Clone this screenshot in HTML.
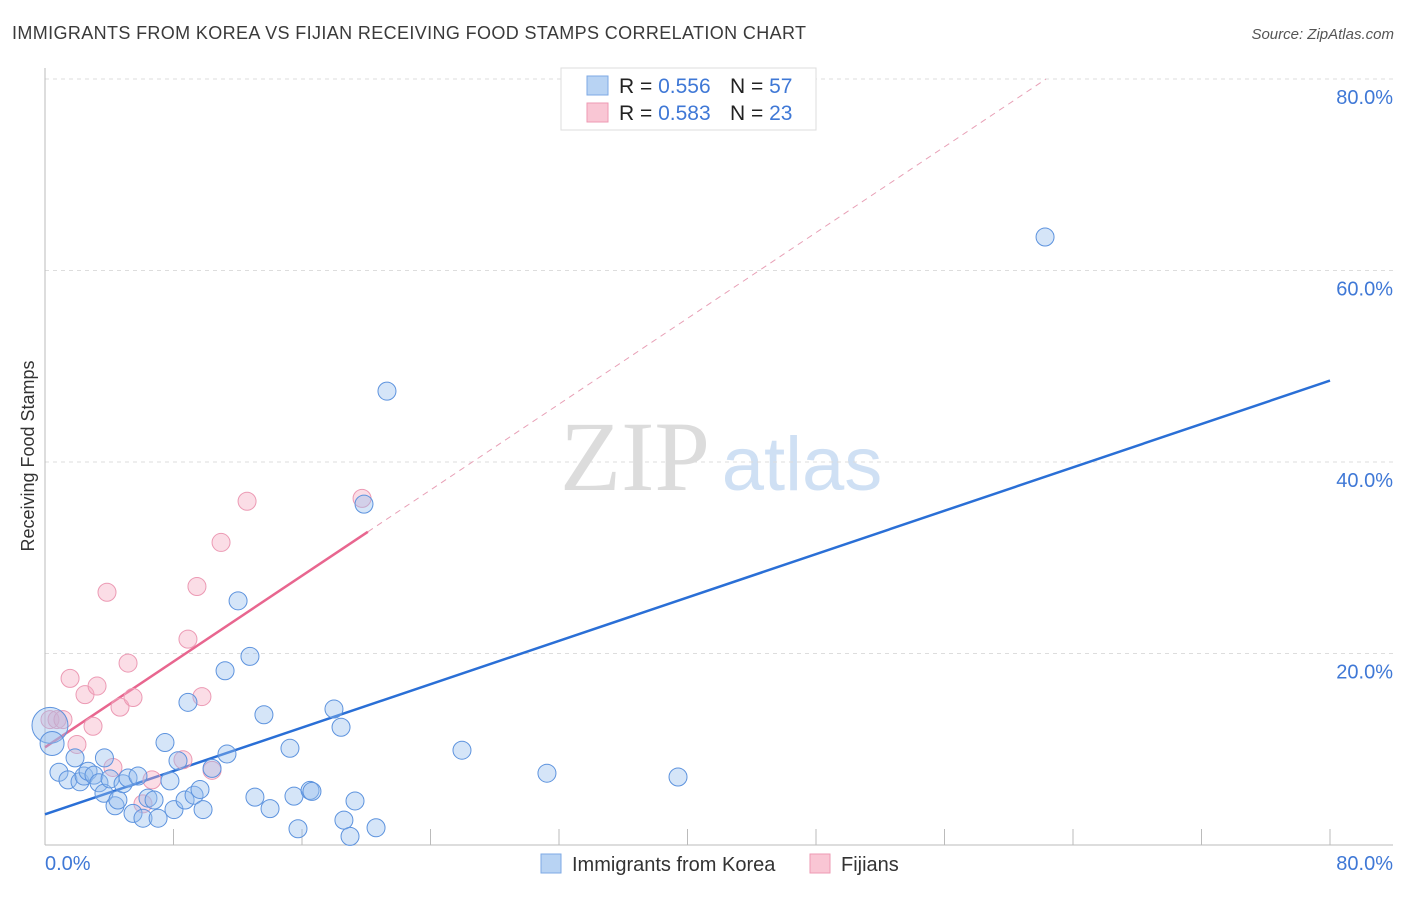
<!DOCTYPE html>
<html><head><meta charset="utf-8"><style>
body{margin:0;background:#fff;font-family:"Liberation Sans",sans-serif}
</style></head><body>
<svg id="chart" width="1406" height="892" viewBox="0 0 1406 892" xmlns="http://www.w3.org/2000/svg" font-family="Liberation Sans, sans-serif">
<text x="12" y="39" font-size="18" fill="#3a3a3a" textLength="794">IMMIGRANTS FROM KOREA VS FIJIAN RECEIVING FOOD STAMPS CORRELATION CHART</text>
<text x="1394" y="39" font-size="15" fill="#555" font-style="italic" text-anchor="end">Source: ZipAtlas.com</text>
<text transform="translate(34,456) rotate(-90)" font-size="18" fill="#333" text-anchor="middle">Receiving Food Stamps</text>
<g>
<text x="635" y="490" font-size="100" fill="#dcdcdc" font-family="Liberation Serif, serif" text-anchor="middle">ZIP</text>
<text x="802" y="490" font-size="76" fill="#cfe0f4" text-anchor="middle">atlas</text>
</g>
<g id="grid"></g>
<g id="trend"></g>
<g id="marks"></g>
<g>
<rect x="561" y="68" width="255" height="62" fill="#fff" stroke="#ddd"/>
<rect x="587" y="76" width="21" height="19" fill="#b8d3f3" stroke="#7eaae4"/>
<rect x="587" y="103" width="21" height="19" fill="#f9c6d4" stroke="#ee9ab3"/>
<text x="619" y="93" font-size="21" fill="#222">R = <tspan fill="#3f78d6">0.556</tspan><tspan x="730">N = </tspan><tspan fill="#3f78d6">57</tspan></text>
<text x="619" y="120" font-size="21" fill="#222">R = <tspan fill="#3f78d6">0.583</tspan><tspan x="730">N = </tspan><tspan fill="#3f78d6">23</tspan></text>
</g>
<g>
<rect x="541" y="854" width="20" height="19" fill="#b8d3f3" stroke="#7eaae4"/>
<text x="572" y="871" font-size="20" fill="#333">Immigrants from Korea</text>
<rect x="810" y="854" width="20" height="19" fill="#f9c6d4" stroke="#ee9ab3"/>
<text x="841" y="871" font-size="20" fill="#333">Fijians</text>
</g>
</svg>
<script>
const yTicks=[20,40,60,80];
const yTickLabels=["20.0%","40.0%","60.0%","80.0%"];
const xTicks=[0,8,16,24,32,40,48,56,64,72,80];
const xEndLabels=["0.0%","80.0%"];
const koreaX=[0.31,0.44,0.87,1.43,1.87,2.18,2.43,2.68,3.05,3.36,3.67,4.05,4.36,4.54,4.86,5.17,5.48,5.79,6.10,6.41,6.79,7.04,7.47,7.78,8.03,8.28,8.90,8.72,9.28,9.65,9.84,10.40,11.21,11.33,12.02,12.76,13.07,13.63,14.01,15.25,15.50,15.75,16.50,16.62,17.99,18.43,18.61,18.99,19.30,20.61,19.86,21.29,25.96,31.25,39.41,62.26,3.7];
const koreaY=[12.5,10.6,7.6,6.8,9.1,6.6,7.2,7.7,7.3,6.5,5.4,6.9,4.1,4.7,6.4,7.0,3.3,7.2,2.8,4.9,4.7,2.8,10.7,6.7,3.7,8.8,14.9,4.7,5.2,5.8,3.7,8.0,18.2,9.5,25.5,19.7,5.0,13.6,3.8,10.1,5.1,1.7,5.7,5.6,14.2,12.3,2.6,0.9,4.6,1.8,35.6,47.4,9.9,7.5,7.1,63.5,9.1];
const koreaR=[18,12,9,9,9,9,9,9,9,9,9,9,9,9,9,9,9,9,9,9,9,9,9,9,9,9,9,9,9,9,9,9,9,9,9,9,9,9,9,9,9,9,9,9,9,9,9,9,9,9,9,9,9,9,9,9,9];
const fijiX=[0.31,0.75,1.12,1.56,1.99,2.49,2.99,3.24,4.23,4.67,5.17,5.48,3.86,6.10,6.66,8.59,8.90,9.46,9.77,10.40,10.96,12.58,19.74];
const fijiY=[13.1,13.1,13.1,17.4,10.5,15.7,12.4,16.6,8.1,14.4,19.0,15.4,26.4,4.3,6.8,8.9,21.5,27.0,15.5,7.8,31.6,35.9,36.2];
const koreaTrend=[3.2,48.5];
const fijiTrend=[10.2,1.12];
const fijiSolidEnd=20.1;

const NS="http://www.w3.org/2000/svg";
const sx=v=>45+v*(1285/80);
const sy=v=>845-v*(766/80);
function mk(tag,attrs,parent){const e=document.createElementNS(NS,tag);for(const k in attrs)e.setAttribute(k,attrs[k]);parent.appendChild(e);return e;}
const grid=document.getElementById('grid'),trend=document.getElementById('trend'),marks=document.getElementById('marks');
yTicks.forEach((t,i)=>{
 const l=mk('line',{x1:45,x2:1393,y1:sy(t),y2:sy(t),stroke:'#ddd','stroke-dasharray':'4,4'},grid);
 
 
 const tx=mk('text',{x:1393,y:sy(t)+25,'font-size':20,fill:'#3f78d6','text-anchor':'end'},grid);
 tx.textContent=yTickLabels[i];
 
 
});
const ax=mk('line',{x1:45,x2:45,y1:68,y2:845,stroke:'#bbb'},grid);


const bx=mk('line',{x1:45,x2:1393,y1:845,y2:845,stroke:'#bbb'},grid);


xTicks.forEach(t=>{
 const l=mk('line',{x1:sx(t),x2:sx(t),y1:829,y2:845,stroke:'#bbb'},grid);
 
 
});
[[0,'start'],[80,'end']].forEach(([v,a],i)=>{
 const tx=mk('text',{x:i?1393:45,y:870,'font-size':20,fill:'#3f78d6','text-anchor':a},grid);
 tx.textContent=xEndLabels[i];
 
 
});
const kt=mk('line',{x1:sx(0),y1:sy(koreaTrend[0]),x2:sx(80),y2:sy(koreaTrend[1]),stroke:'#2a6fd6','stroke-width':2.5},trend);


const fEnd=(80-fijiTrend[0])/fijiTrend[1];
const fd=mk('line',{x1:sx(fijiSolidEnd),y1:sy(fijiTrend[0]+fijiTrend[1]*fijiSolidEnd),x2:sx(fEnd),y2:sy(80),stroke:'#e8a0b6','stroke-width':1,'stroke-dasharray':'6,5'},trend);


const ft=mk('line',{x1:sx(0),y1:sy(fijiTrend[0]),x2:sx(fijiSolidEnd),y2:sy(fijiTrend[0]+fijiTrend[1]*fijiSolidEnd),stroke:'#e8668f','stroke-width':2.5},trend);


fijiX.forEach((x,i)=>{
 const c=mk('circle',{cx:sx(x),cy:sy(fijiY[i]),r:9,fill:'rgba(246,170,193,0.4)',stroke:'#ec9ab4','stroke-width':1},marks);
 
 
});
koreaX.forEach((x,i)=>{
 const c=mk('circle',{cx:sx(x),cy:sy(koreaY[i]),r:koreaR[i],fill:'rgba(150,190,238,0.4)',stroke:'#5d93de','stroke-width':1},marks);
 
 
});
</script>
</body></html>
